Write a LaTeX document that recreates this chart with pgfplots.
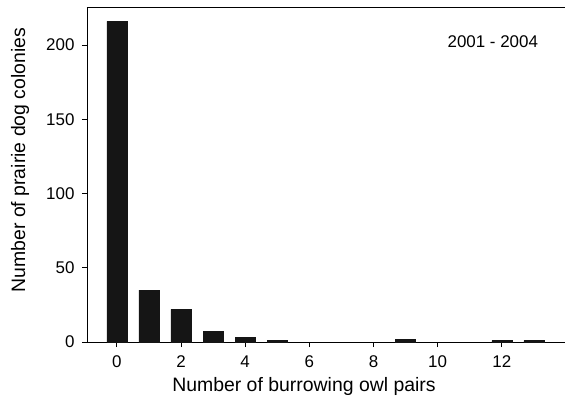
\documentclass[border=0pt]{standalone}
\usepackage{pgfplots}
\pgfplotsset{compat=1.18}
\usepackage{fontspec}
\setmainfont{Liberation Sans}
\definecolor{barc}{HTML}{151515}
\begin{document}
\begin{tikzpicture}
\begin{axis}[
  scale only axis,
  width=478bp, height=335bp,
  xmin=-0.93, xmax=13.97,
  ymin=0, ymax=225.6,
  axis lines*=left,
  axis line style={line width=0.9pt, black},
  xtick={0,2,...,12},
  ytick={0,50,...,200},
  tick align=outside,
  major tick length=5bp,
  tick style={line width=0.8pt, black},
  /pgf/number format/assume math mode=true,
  tick label style={font=\fontsize{17}{20}\selectfont},
  xticklabel style={yshift=-5bp},
  yticklabel style={xshift=-4bp},
  label style={font=\fontsize{19.5}{23}\selectfont},
  xlabel={Number of burrowing owl pairs},
  ylabel={Number of prairie dog colonies},
  xlabel style={at={(axis description cs:0.454,0)}, anchor=center, yshift=-44bp},
  ylabel style={at={(axis description cs:-0.140,0.543)}, anchor=center},
  clip=false,
]
\addplot[ybar, bar width=20bp, fill=barc, draw=barc, line width=0.3pt] coordinates {
(0,216) (1,35) (2,22) (3,7) (4,3) (5,1) (9,2) (12,1) (13,1)
};
\draw[line width=0.9pt] (rel axis cs:0,1) -- (rel axis cs:1,1);
\node[font=\fontsize{17}{20}\selectfont] at (axis cs:11.72,202.5) {2001 - 2004};
\end{axis}
\pgfresetboundingbox
\path ([xshift=-87bp,yshift=-58bp]current axis.south west) rectangle ([yshift=7bp]current axis.north east);
\end{tikzpicture}
\end{document}
